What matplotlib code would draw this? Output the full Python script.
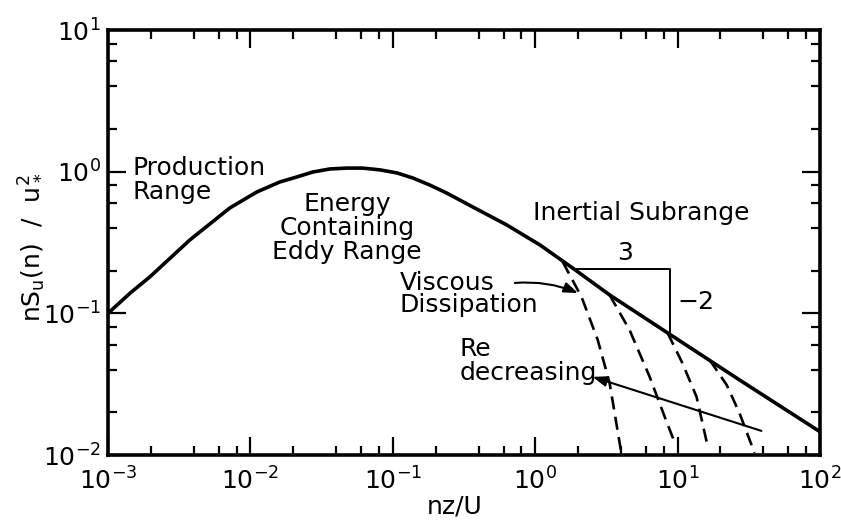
import matplotlib
matplotlib.use("Agg")
import matplotlib.pyplot as plt
from matplotlib.ticker import LogLocator, NullFormatter

plt.rcParams['font.family'] = ['DejaVu Sans']
plt.rcParams['mathtext.default'] = 'regular'

# spectrum (nz/U, nS_u/u*^2)
solid_x = [0.001, 0.00143, 0.00197, 0.00376, 0.00718, 0.0111, 0.0161, 0.0212, 0.0275,
           0.0361, 0.0475, 0.0615, 0.0811, 0.107, 0.138, 0.182, 0.239, 0.364, 0.631,
           1.08, 1.83, 3.33, 8.51, 27.2, 100]
solid_y = [0.1, 0.139, 0.181, 0.330, 0.555, 0.719, 0.846, 0.918, 0.995,
           1.045, 1.06, 1.06, 1.03, 0.98, 0.903, 0.805, 0.707, 0.564, 0.421,
           0.304, 0.209, 0.135, 0.0728, 0.0339, 0.0146]

# viscous cut-off branches
dash1_x = [1.56, 2.12, 2.75, 3.33, 4.05]
dash1_y = [0.231, 0.130, 0.0649, 0.0323, 0.01]
dash2_x = [3.33, 4.6, 6.37, 8.12, 9.68]
dash2_y = [0.135, 0.0763, 0.0356, 0.0186, 0.0118]
dash3_x = [8.51, 10.8, 13.6, 16.0]
dash3_y = [0.0728, 0.0446, 0.0257, 0.0124]
dash4_x = [16.8, 22.1, 27.2, 34.7]
dash4_y = [0.0469, 0.0313, 0.0198, 0.01035]
dashed = [(dash1_x, dash1_y), (dash2_x, dash2_y), (dash3_x, dash3_y), (dash4_x, dash4_y)]

# -2/3 slope triangle
tri_x = [1.95, 8.79, 8.79]
tri_y = [0.206, 0.206, 0.074]

fig = plt.figure(figsize=(8.41, 5.23), dpi=100)
ax = fig.add_axes([0.1284, 0.130, 0.8466, 0.8126])

ax.plot(solid_x, solid_y, color='black', lw=2.6, solid_joinstyle='round')
for dx, dy in dashed:
    ax.plot(dx, dy, color='black', lw=1.9, dashes=(5, 2.8))
ax.plot(tri_x, tri_y, color='black', lw=1.4)

ax.set_xscale('log')
ax.set_yscale('log')
ax.set_xlim(1e-3, 1e2)
ax.set_ylim(1e-2, 1e1)
for axis in (ax.xaxis, ax.yaxis):
    axis.set_major_locator(LogLocator(base=10))
    axis.set_minor_locator(LogLocator(base=10, subs=[2, 4, 6, 8]))
    axis.set_minor_formatter(NullFormatter())
ax.tick_params(which='both', direction='in', top=True, right=True, width=1.6, color='black')
ax.tick_params(which='major', length=13, labelsize=18, pad=5)
ax.tick_params(axis='x', which='major', pad=9)
ax.tick_params(which='minor', length=6.5)
for s in ax.spines.values():
    s.set_linewidth(2.6)

ax.set_xlabel('nz/U', fontsize=18, va='center')
ax.xaxis.set_label_coords(0.487, -0.122)
ax.set_ylabel(r'$nS_u(n)\ \ /\ \ u_*^2$', fontsize=18, va='center')
ax.yaxis.set_label_coords(-0.108, 0.489)

tkw = dict(transform=ax.transAxes, fontsize=18)
ax.text(0.035, 0.647, 'Production\nRange', ha='left', va='center', linespacing=1.0, **tkw)
ax.text(0.336, 0.534, 'Energy\nContaining\nEddy Range', ha='center', va='center', linespacing=1.0, **tkw)
ax.text(0.749, 0.569, 'Inertial Subrange', ha='center', va='center', **tkw)
ax.text(0.410, 0.379, 'Viscous\nDissipation', ha='left', va='center', linespacing=0.92, **tkw)
ax.text(0.494, 0.221, 'Re\ndecreasing', ha='left', va='center', linespacing=1.0, **tkw)
ax.text(0.726, 0.475, '3', ha='center', va='center', **tkw)
ax.text(0.800, 0.360, '\u22122', ha='left', va='center', **tkw)

arrow = dict(arrowstyle='-|>,head_length=0.6,head_width=0.22', color='black', lw=1.5,
             mutation_scale=14, shrinkA=0, shrinkB=0)
ax.annotate('', xy=(2.0, 0.139), xytext=(0.72, 0.164),
            arrowprops=dict(arrow, connectionstyle='arc3,rad=-0.12'))
ax.annotate('', xy=(2.53, 0.0356), xytext=(38.8, 0.0148), arrowprops=arrow)

fig.savefig('out.png', dpi=100)
